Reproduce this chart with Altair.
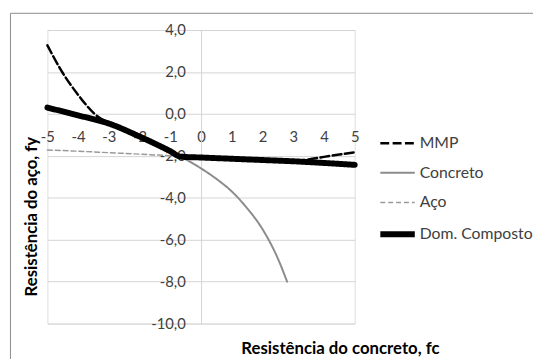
import altair as alt
import pandas as pd

series_names = ["MMP", "Concreto", "Aço", "Dom. Composto"]

mmp_x = [-5, -4.5, -4, -3.5, -3, -2, -1, -0.66, 0, 1, 2, 3, 3.5, 4, 4.5, 5]
mmp_y = [3.27, 1.95, 0.91, 0.05, -0.46, -1.08, -1.78, -2.04, -2.08, -2.14, -2.20, -2.24, -2.17, -2.05, -1.94, -1.83]

conc_x = [-5, -4, -3, -2, -1, -0.66, 0, 0.5, 1, 1.5, 2, 2.5, 2.8]
conc_y = [0.30, -0.07, -0.46, -1.08, -1.78, -2.04, -2.60, -3.10, -3.70, -4.50, -5.50, -6.90, -8.0]

aco_x = [-5, -4, -3, -2, -1, -0.66, 0, 1, 2, 3, 4, 5]
aco_y = [-1.72, -1.78, -1.85, -1.92, -2.0, -2.04, -2.08, -2.14, -2.20, -2.26, -2.34, -2.43]

comp_x = [-5, -4, -3, -2, -1, -0.66, 0, 1, 2, 3, 4, 5]
comp_y = [0.30, -0.07, -0.46, -1.08, -1.78, -2.04, -2.08, -2.14, -2.20, -2.26, -2.34, -2.43]

x_ticks = [-5, -4, -3, -2, -1, 0, 1, 2, 3, 4, 5]
y_ticks = [-10, -8, -6, -4, -2, 0, 2, 4]

FONT = "Lato"
TXT = "#404040"

frames = []
for name, xs, ys in [("MMP", mmp_x, mmp_y), ("Concreto", conc_x, conc_y),
                     ("Aço", aco_x, aco_y), ("Dom. Composto", comp_x, comp_y)]:
    frames.append(pd.DataFrame({"fc": xs, "fy": ys, "serie": name}))
df = pd.concat(frames, ignore_index=True)

x_enc = alt.X(
    "fc:Q",
    scale=alt.Scale(domain=[-5, 5], nice=False, zero=False),
    axis=alt.Axis(
        values=x_ticks, orient="bottom", offset=-197, domain=False, ticks=False,
        tickSize=0, grid=False, labelPadding=0, labelFontSize=15, labelFont=FONT,
        labelColor=TXT, labelExpr="replace(format(datum.value, 'd'), '\u2212', '-')",
        title="Resistência do concreto, fc", titleFont=FONT, titleFontSize=17,
        titleFontWeight="bold", titleColor="#000000", titleX=297, titleY=222,
        titleAlign="center", titleBaseline="middle", labelFlush=False,
    ),
)
y_enc = alt.Y(
    "fy:Q",
    scale=alt.Scale(domain=[-10, 4], nice=False, zero=False),
    axis=alt.Axis(
        values=y_ticks, orient="left", offset=-156, domain=True, domainColor="#d4d4d4",
        domainWidth=1, ticks=False, tickSize=0, grid=True, gridColor="#d4d4d4",
        gridWidth=1, labelPadding=16, labelFontSize=15, labelFont=FONT, labelColor=TXT,
        labelExpr="replace(replace(format(datum.value, '.1f'), '.', ','), '\u2212', '-')",
        title="Resistência do aço, fy", titleFont=FONT, titleFontSize=17,
        titleFontWeight="bold", titleColor="#000000", titleX=-172, titleY=189,
        titleAngle=270, titleAlign="center", titleBaseline="middle", labelFlush=False,
    ),
)

color = alt.Color(
    "serie:N",
    scale=alt.Scale(domain=series_names, range=["#000000", "#8c8c8c", "#9a9a9a", "#000000"]),
    legend=alt.Legend(title=None, orient="none", legendX=335, legendY=96,
                      symbolType="stroke", symbolSize=1225, labelFontSize=16,
                      labelFont=FONT, labelColor=TXT, labelOffset=2, rowPadding=3.3,
                      padding=0),
)
dash = alt.StrokeDash(
    "serie:N",
    scale=alt.Scale(type="ordinal", domain=series_names,
                    range=[[9, 3.5], [1, 0], [5, 3], [1, 0]]),
    legend=alt.Legend(title=None),
)
width = alt.StrokeWidth(
    "serie:N",
    scale=alt.Scale(type="ordinal", domain=series_names, range=[2.5, 2, 1.5, 6]),
    legend=alt.Legend(title=None),
)

layers = []
border = alt.Chart(pd.DataFrame({"k": [0]})).mark_rect(
    fillOpacity=0, stroke="#8a8a8a", strokeWidth=1
).encode(x=alt.value(-37.5), x2=alt.value(700), y=alt.value(-17), y2=alt.value(500))
layers.append(border)
for name in series_names:
    layers.append(
        alt.Chart(df).transform_filter(alt.datum.serie == name)
        .mark_line(interpolate="monotone", strokeCap="round", strokeJoin="round")
        .encode(x=x_enc, y=y_enc, color=color, strokeDash=dash, strokeWidth=width)
    )

chart = alt.layer(*layers).properties(
    width=312, height=298,
    autosize=alt.AutoSizeParams(type="none"),
    padding={"left": 40, "top": 19.7, "right": 181, "bottom": 33.3},
).configure_view(stroke=None).configure(background="#ffffff")

chart.save("out.html", embed_options={"renderer": "svg", "actions": False})
